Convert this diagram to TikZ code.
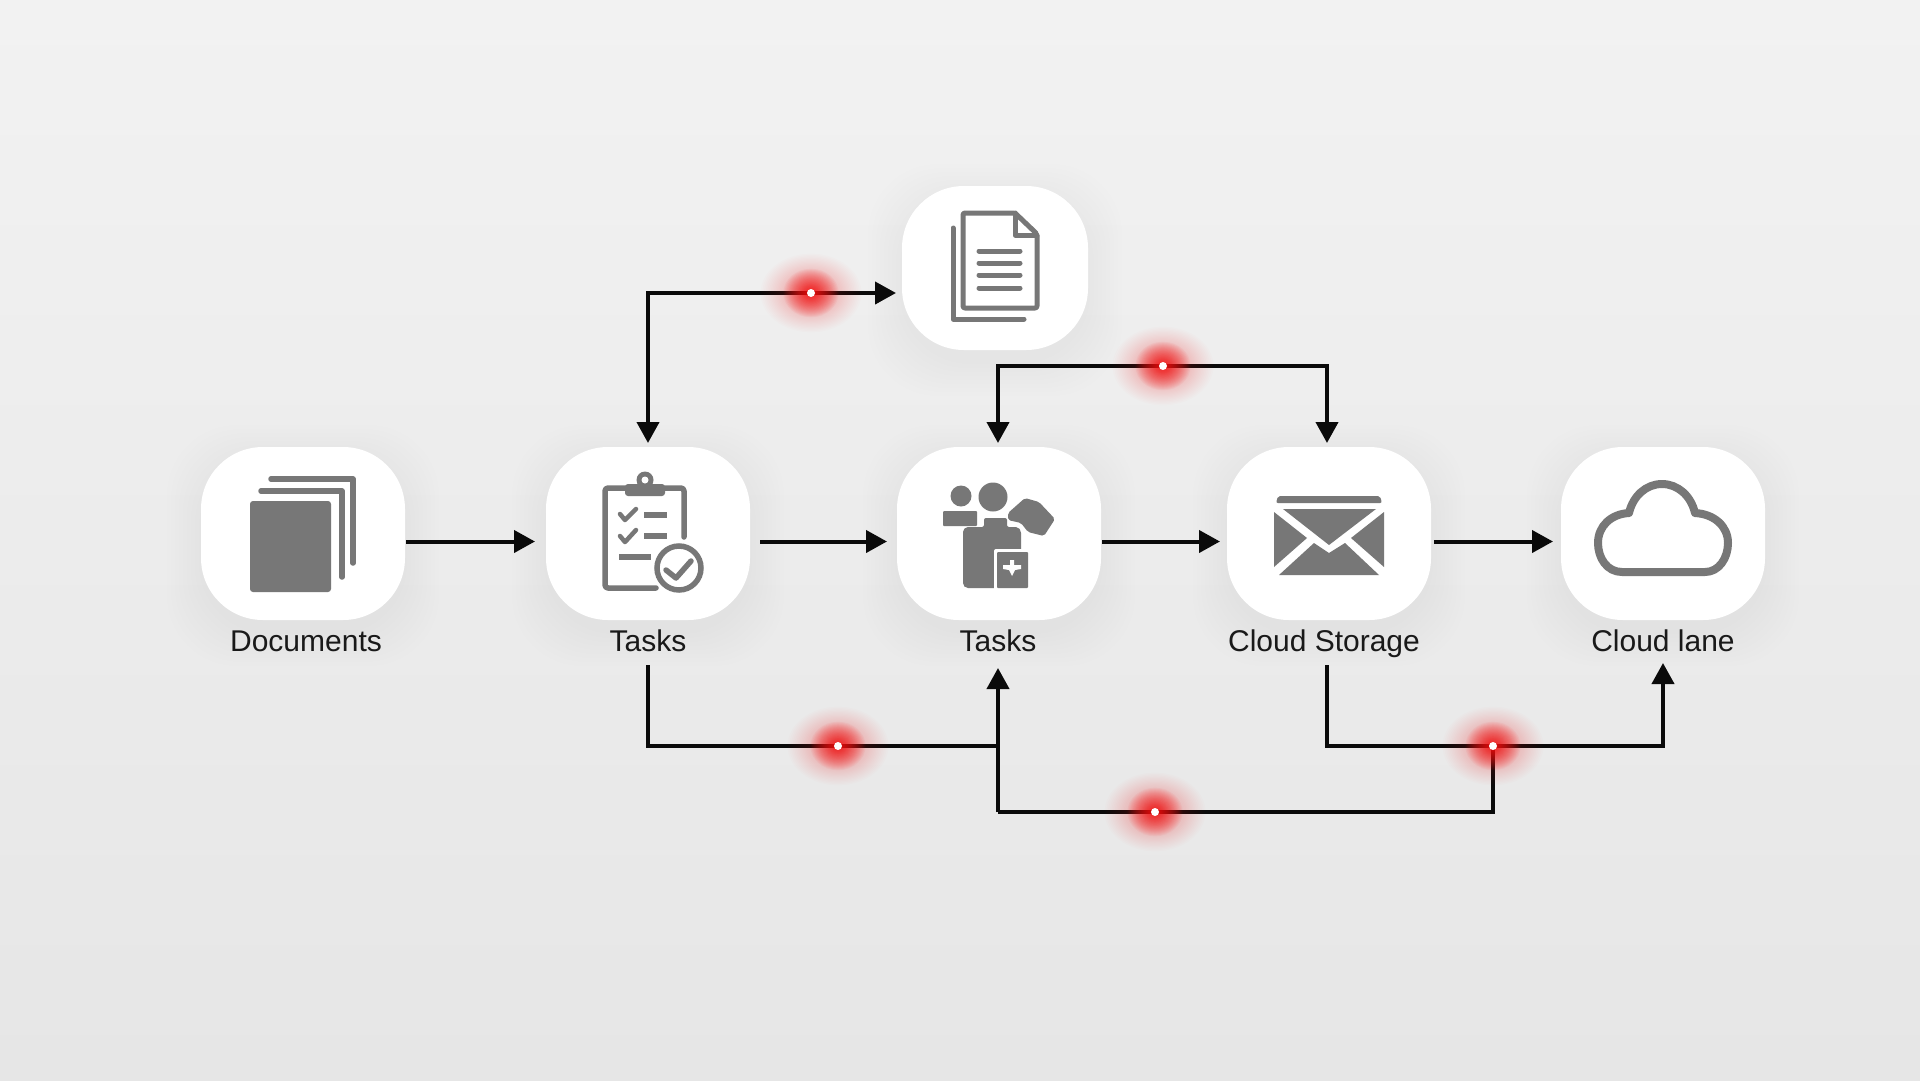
\documentclass[tikz,border=0pt]{standalone}
\usepackage{fontspec}
\setmainfont{Liberation Sans}
\usetikzlibrary{arrows.meta,calc}
\definecolor{icongray}{HTML}{777777}
\definecolor{bgtop}{HTML}{F2F2F2}
\definecolor{bgbot}{HTML}{E6E6E6}
\definecolor{inkline}{HTML}{0A0A0A}
\definecolor{glowred}{HTML}{FF1A1A}
\tikzset{
  card/.style={fill=white,rounded corners=62pt,draw=none,minimum width=204pt,minimum height=173pt,inner sep=0pt},
  cardlabel/.style={font=\fontsize{30}{32}\selectfont,text=black!90,inner sep=0pt,anchor=base},
  wire/.style={draw=inkline,line width=4pt,line join=miter},
  flow/.style={wire,-{Triangle[length=21pt,width=22pt]}},
  flowboth/.style={wire,{Triangle[length=21pt,width=22pt]}-{Triangle[length=21pt,width=22pt]}},
  iconline/.style={draw=icongray,line width=5.5pt,line cap=round,line join=round},
  iconthin/.style={draw=icongray,line width=4.5pt,line cap=round,line join=round},
  iconfill/.style={fill=icongray,draw=none},
  pin/.style={circle,fill=white,draw=none,minimum size=8pt,inner sep=0pt},
}
\newcommand{\softshadow}[4]{%
  \foreach \g in {34,30,...,2}{%
    \fill[black,opacity=0.0045,rounded corners=70pt]
      ($(#1,#2)+(-#3/2-\g,-#4/2-\g+12)$) rectangle ($(#1,#2)+(#3/2+\g,#4/2+\g+12)$);
  }%
}
\newcommand{\glowat}[2]{%
  \foreach \i in {1,...,56}{%
    \pgfmathsetmacro{\rr}{50*(\i/56)^2+0.5}
    \fill[glowred,opacity=0.012] (#1,#2) ellipse [x radius=\rr pt,y radius=0.78*\rr pt];
  }%
  \foreach \i in {1,...,40}{%
    \pgfmathsetmacro{\rr}{27*(\i/40)^1.8+0.5}
    \fill[glowred,opacity=0.05] (#1,#2) ellipse [x radius=\rr pt,y radius=0.88*\rr pt];
  }%
  \node[pin] at (#1,#2) {};
}
\begin{document}
\begin{tikzpicture}[x=1pt,y=-1pt]
\useasboundingbox (0,0) rectangle (1920,1080);
\shade[top color=bgtop,bottom color=bgbot] (0,0) rectangle (1920,1080);

% shadows
\softshadow{303}{533.5}{204}{173}
\softshadow{648}{533.5}{204}{173}
\softshadow{999}{533.5}{204}{173}
\softshadow{1329}{533.5}{204}{173}
\softshadow{1663}{533.5}{204}{173}
\softshadow{995}{268}{186}{164}

% cards
\node[card] (docs) at (303,533.5) {};
\node[card] (tasksA) at (648,533.5) {};
\node[card] (tasksB) at (999,533.5) {};
\node[card] (storage) at (1329,533.5) {};
\node[card] (cloud) at (1663,533.5) {};
\node[card,minimum width=186pt,minimum height=164pt] (page) at (995,268) {};

% labels
\node[cardlabel] (docsL) at (306,651) {Documents};
\node[cardlabel] (tasksAL) at (648,651) {Tasks};
\node[cardlabel] (tasksBL) at (998,651) {Tasks};
\node[cardlabel] (storageL) at (1324,651) {Cloud Storage};
\node[cardlabel] (cloudL) at (1663,651) {Cloud lane};

% junctions
\coordinate (topA) at (648,293);
\coordinate (topB1) at (998,366);
\coordinate (topB2) at (1327,366);
\coordinate (busA) at (648,746);
\coordinate (busJoin) at (998,746);
\coordinate (busC) at (1327,746);
\coordinate (busD) at (1663,746);
\coordinate (busE) at (1493,746);
\coordinate (lowA) at (998,812);
\coordinate (lowB) at (1493,812);
\coordinate (inA) at (648,443);
\coordinate (inB) at (998,443);
\coordinate (inC) at (1327,443);
\coordinate (inD) at (998,668);
\coordinate (inE) at (1663,663);
\coordinate (outA) at (648,665);
\coordinate (outC) at (1327,665);
\coordinate (pageIn) at (896,293);

% connectors
\draw[flow] (docs.east) ++(1,8) -- (535,541.5) coordinate (e1);
\draw[flow] (tasksA.east) ++(10,8) -- (887,541.5) coordinate (e2);
\draw[flow] (tasksB.east) ++(1,8) -- (1220,541.5) coordinate (e3);
\draw[flow] (storage.east) ++(3,8) -- (1553,541.5) coordinate (e4);
\draw[flowboth] (inA) -- (topA) -- (pageIn);
\draw[flowboth] (inB) -- (topB1) -- (topB2) -- (inC);
\draw[wire] (outA) -- (busA) -- (busJoin);
\draw[flow] (lowA) -- (inD);
\draw[wire] (lowA) -- (lowB) -- (busE);
\draw[flow] (outC) -- (busC) -- (busD) -- (inE);

% glows
\glowat{811}{293}
\glowat{1163}{366}
\glowat{838}{746}
\glowat{1493}{746}
\glowat{1155}{812}

% ---- icon: stacked sheets
\fill[iconfill,rounded corners=3pt] (250,501) rectangle (331,592);
\draw[iconline] (261,491) -- (342,491) -- (342,577);
\draw[iconline] (271,479) -- (353,479) -- (353,563);

% ---- icon: clipboard
\draw[iconline,rounded corners=3pt] (656,588) -- (605,588) -- (605,488) -- (684,488) -- (684,537);
\fill[iconfill,rounded corners=3pt] (625,484) rectangle (665,496);
\fill[iconfill] (645,480) circle (8.5pt);
\fill[white] (645,480) circle (3.5pt);
\draw[iconthin] (620,514) -- (625,520) -- (636,509);
\draw[iconthin] (620,536) -- (625,542) -- (636,530);
\draw[iconline,line cap=butt] (644,515) -- (667,515);
\draw[iconline,line cap=butt] (644,536) -- (667,536);
\draw[iconline,line cap=butt] (619,557) -- (651,557);
\draw[line width=5.5pt,draw=icongray,fill=white] (679,568) circle (22pt);
\draw[iconline] (666,570) -- (676,578) -- (691,561);

% ---- icon: page
\draw[iconline,line width=5pt,rounded corners=2pt] (1015,213) -- (963,213) -- (963,308) -- (1037,308) -- (1037,234) -- cycle;
\draw[iconline,line width=5pt] (1015,213) -- (1015,235) -- (1037,235);
\draw[iconthin,line width=5pt] (979,251) -- (1020,251);
\draw[iconthin,line width=5pt] (979,263) -- (1020,263);
\draw[iconthin,line width=5pt] (979,275) -- (1020,275);
\draw[iconthin,line width=5pt] (979,288) -- (1020,288);
\draw[iconline,line width=5pt] (953,228) -- (953,319) -- (1024,319);

% ---- icon: people and folder
\fill[iconfill] (961,496) circle (10.5pt);
\fill[iconfill] (993,497) circle (14.5pt);
\fill[iconfill,rounded corners=1pt] (943,511) rectangle (977,526);
\fill[iconfill,rounded corners=2pt] (984,518) -- (1007,518) -- (1007,527) -- (1018,527) -- (1021,531) -- (1021,588) -- (966,588) -- (963,585) -- (963,530) -- (966,527) -- (984,527) -- cycle;
\fill[iconfill,rounded corners=2pt] (1008,513) -- (1025,498) -- (1039,502) -- (1055,519) -- (1044,536) -- (1028,532) -- (1021,523) -- (1008,520) -- cycle;
\fill[white,rounded corners=2pt] (994,549) rectangle (1031,592);
\fill[iconfill,rounded corners=1pt] (997,552) rectangle (1028,588);
\fill[white] (1010,560) -- (1014,560) -- (1014,565) -- (1021,565) -- (1021,569) -- (1015,570) -- (1012,576) -- (1009,570) -- (1003,569) -- (1003,565) -- (1010,565) -- cycle;

% ---- icon: envelope
\fill[iconfill,rounded corners=2pt] (1276,503) -- (1278,496) -- (1380,496) -- (1382,503) -- cycle;
\fill[iconfill] (1283,509) -- (1376,509) -- (1329,545) -- cycle;
\fill[iconfill] (1274,512) -- (1307,538) -- (1274,567) -- cycle;
\fill[iconfill] (1384,512) -- (1351,538) -- (1384,567) -- cycle;
\fill[iconfill] (1279,575) -- (1314,543) -- (1329,553) -- (1345,543) -- (1379,575) -- cycle;

% ---- icon: cloud
\draw[icongray,line width=8pt,line join=round] (1622,572) -- (1705,572)
  .. controls (1719,572) and (1728,558) .. (1728,543)
  .. controls (1728,526) and (1714,514) .. (1695,513)
  .. controls (1691,496) and (1678,484) .. (1662,484)
  .. controls (1646,484) and (1633,496) .. (1629,513)
  .. controls (1611,514) and (1598,526) .. (1598,543)
  .. controls (1598,558) and (1607,572) .. (1622,572) -- cycle;
\end{tikzpicture}
\end{document}
